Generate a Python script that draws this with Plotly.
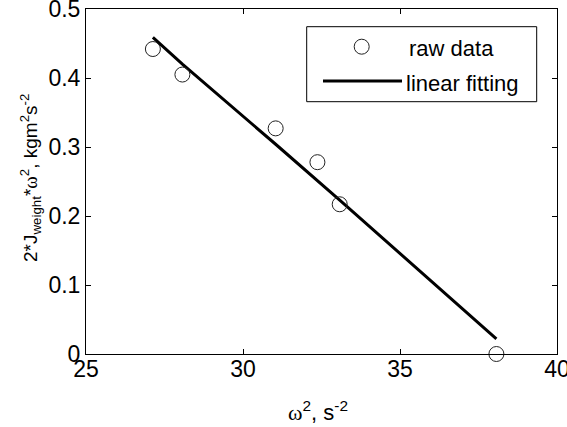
import plotly.graph_objects as go

# data
omega_sq = [27.13, 28.07, 31.04, 32.37, 33.08, 38.07]
raw_vals = [0.442, 0.405, 0.327, 0.278, 0.217, 0.0]
fit_vals = [0.459, 0.420, 0.304, 0.252, 0.223, 0.022]

x_ticks = [25, 30, 35, 40]
y_ticks = [0, 0.1, 0.2, 0.3, 0.4, 0.5]
legend_names = ["raw data", "linear fitting"]

FONT = "Liberation Sans, Arial, sans-serif"
W, H = 567, 427
L, R, T, B = 86, 10, 9, 73
pw, ph = W - L - R, H - T - B


def px(xp):
    return (xp - L) / pw


def py(yp):
    return (H - B - yp) / ph


fig = go.Figure()
fig.add_trace(go.Scatter(
    x=omega_sq, y=fit_vals, mode="lines", name=legend_names[1],
    line=dict(color="black", width=3), showlegend=False))
fig.add_trace(go.Scatter(
    x=omega_sq, y=raw_vals, mode="markers", name=legend_names[0],
    marker=dict(symbol="circle-open", size=15, color="#222",
                line=dict(width=1)),
    cliponaxis=False, showlegend=False))

axis_common = dict(
    showline=True, linecolor="black", linewidth=1, mirror="ticks",
    ticks="inside", ticklen=5, tickwidth=1, tickcolor="black",
    showgrid=False, zeroline=False, ticklabeloverflow="allow",
    automargin=False,
    tickfont=dict(family=FONT, size=23, color="black"),
)

fig.update_xaxes(range=[25, 40], tickvals=x_ticks,
                 ticktext=[str(v) for v in x_ticks],
                 ticklabelstandoff=-6, **axis_common)
fig.update_yaxes(range=[0, 0.5], tickvals=y_ticks,
                 ticktext=["0" if v == 0 else f"{v:.1f}" for v in y_ticks],
                 ticklabelstandoff=0, **axis_common)

shapes = []
# legend box
shapes.append(dict(type="rect", xref="paper", yref="paper",
                   x0=px(306.7), x1=px(536.7), y0=py(101.7), y1=py(26.7),
                   line=dict(color="black", width=1), fillcolor="white"))
# legend marker
shapes.append(dict(type="circle", xref="paper", yref="paper",
                   xsizemode="pixel", ysizemode="pixel",
                   xanchor=px(361.7), yanchor=py(46.7),
                   x0=-7.5, x1=7.5, y0=-7.5, y1=7.5,
                   line=dict(color="#222", width=1)))
# legend line sample
shapes.append(dict(type="line", xref="paper", yref="paper",
                   x0=px(323), x1=px(402), y0=py(81), y1=py(81),
                   line=dict(color="black", width=3)))

annotations = [
    dict(text=legend_names[0], xref="paper", yref="paper",
         x=px(407), y=py(49), xanchor="left", yanchor="middle",
         showarrow=False, font=dict(family=FONT, size=22, color="black")),
    dict(text=legend_names[1], xref="paper", yref="paper",
         x=px(404), y=py(83), xanchor="left", yanchor="middle",
         showarrow=False, font=dict(family=FONT, size=22, color="black")),
    dict(text='<span style="font-family:Liberation Serif">ω</span><sup>2</sup>, s<sup>-2</sup>',
         xref="paper", yref="paper", x=px(318), y=py(411),
         xanchor="center", yanchor="middle", showarrow=False,
         font=dict(family=FONT, size=22, color="black")),
    dict(text='2*J<sub>weight</sub>*<span style="font-family:Liberation Serif">ω</span><sup>2</sup>, kgm<sup>2</sup>s<sup>-2</sup>',
         xref="paper", yref="paper", x=px(30), y=py(178),
         xanchor="center", yanchor="middle", textangle=-90, showarrow=False,
         font=dict(family=FONT, size=19, color="black")),
]

fig.update_layout(
    width=W, height=H,
    margin=dict(l=L, r=R, t=T, b=B),
    paper_bgcolor="white", plot_bgcolor="white",
    shapes=shapes, annotations=annotations,
    showlegend=False,
)

fig.write_html("out.html")
